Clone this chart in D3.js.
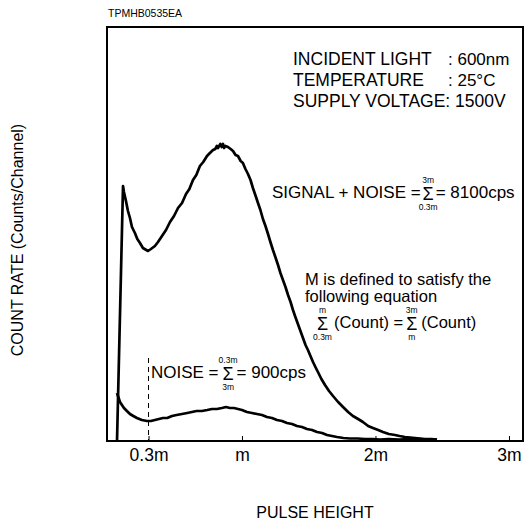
<!DOCTYPE html>
<html><head><meta charset="utf-8">
<script src="https://cdn.jsdelivr.net/npm/d3@7"></script>
<style>
html,body{margin:0;padding:0;background:#fff;}
text{font-family:"Liberation Sans",Arial,sans-serif;fill:#000;}
</style></head>
<body>
<svg id="chart" width="526" height="520"></svg>
<script>
// ---- data (pulse height in units of m, count rate in arbitrary units) ----
const signalX = [0.064,0.109,0.116,0.131,0.146,0.161,0.176,0.198,0.216,0.236,0.258,0.296,0.318,0.348,0.371,0.401,0.431,0.461,0.491,0.521,0.551,0.581,0.606,0.633,0.658,0.685,0.710,0.738,0.760,0.783,0.800,0.812,0.820,0.838,0.848,0.858,0.866,0.876,0.895,0.915,0.933,0.952,0.970,0.990,1.007,1.026,1.045,1.064,1.082,1.100,1.120,1.138,1.157,1.176,1.195,1.213,1.232,1.250,1.270,1.288,1.307,1.326,1.345,1.364,1.382,1.400,1.419,1.438,1.457,1.476,1.494,1.513,1.532,1.550,1.569,1.595,1.622,1.652,1.682,1.720,1.757,1.795,1.831,1.870,1.906,1.945,1.981,2.020,2.056,2.100,2.146,2.180,2.221,2.260,2.296,2.335,2.371,2.420,2.461];
const signalY = [0,255,249,240,230,223,214,208,202,198,193,190,192,195,199,205,211,219,225,233,238,247,252,261,266,275,279,285,288,291,292,295,293,297,294,297,293,295,294,292,290,286,285,280,278,272,267,261,253,246,238,231,222,215,207,199,191,184,176,168,161,154,146,139,131,124,117,110,103,96,91,85,79,74,69,62,56,50,45,39,34,29,25,22,19,15,13,11,9,7,6,5,4,3.5,3,2.5,2,2,1.5];

const noiseX = [0.064,0.086,0.116,0.138,0.161,0.186,0.213,0.250,0.288,0.318,0.348,0.378,0.408,0.440,0.476,0.510,0.551,0.590,0.625,0.660,0.700,0.740,0.775,0.812,0.850,0.880,0.910,0.940,0.970,1.000,1.037,1.075,1.112,1.150,1.187,1.225,1.262,1.300,1.337,1.375,1.412,1.450,1.487,1.525,1.562,1.600,1.637,1.675,1.712,1.760,1.809,1.865,1.921,1.980,2.034,2.100,2.180,2.250,2.330,2.400,2.460];
const noiseY = [48,39,33,30,27,25,23,21,20,20,21,22,23,23,25,26,27,28,29,30,30,31,32,32,33,34,33,33,32,31,29,28,27,26,24,23,21,20,18,17,15,14,12,11,9,8,6,5,4,3,2.5,2.5,2,2,1.5,2,1.5,2,1.5,1.5,1.5];

const tickValues = [0.3, 1, 2, 3];
const tickLabels = ["0.3m", "m", "2m", "3m"];
const conditionLabels = ["INCIDENT LIGHT", "TEMPERATURE"];
const conditionValues = [": 600nm", ": 25°C"];
const voltageLine = "SUPPLY VOLTAGE: 1500V";
const noiseMarker = 0.3;

// ---- layout ----
const svg = d3.select("#chart");
const L = 107, R = 523, T = 27, B = 441;
const x = d3.scaleLinear().domain([-0.011, 3.105]).range([L, R]);
const y = d3.scaleLinear().domain([0, 414]).range([B, T]);

// frame
svg.append("rect").attr("x", L).attr("y", T).attr("width", R - L).attr("height", B - T)
  .attr("fill", "none").attr("stroke", "#000").attr("stroke-width", 2);

// x axis
const ax = svg.append("g").attr("transform", `translate(0,${B})`)
  .call(d3.axisBottom(x).tickValues(tickValues).tickFormat((d, i) => tickLabels[i])
    .tickSize(-5).tickPadding(8));
ax.select(".domain").remove();
ax.selectAll("line").attr("stroke", "#000").attr("stroke-width", 1);
ax.selectAll("text").attr("font-size", 17.5).attr("font-family", "Liberation Sans, Arial, sans-serif");

// dashed marker at 0.3m
svg.append("line").attr("x1", x(noiseMarker)).attr("x2", x(noiseMarker))
  .attr("y1", 358).attr("y2", B).attr("stroke", "#000").attr("stroke-width", 1)
  .attr("stroke-dasharray", "5,4");

// curves
const line = d3.line().x(d => x(d[0])).y(d => y(d[1]));
svg.append("path").datum(signalX.map((v, i) => [v, signalY[i]]))
  .attr("d", line).attr("fill", "none").attr("stroke", "#000").attr("stroke-width", 2.7)
  .attr("stroke-linejoin", "round");
svg.append("path").datum(noiseX.map((v, i) => [v, noiseY[i]]))
  .attr("d", line).attr("fill", "none").attr("stroke", "#000").attr("stroke-width", 2.7)
  .attr("stroke-linejoin", "round");

// texts
function txt(xp, yp, s, size, anchor) {
  return svg.append("text").attr("x", xp).attr("y", yp).attr("font-size", size)
    .attr("text-anchor", anchor || "start").text(s);
}
txt(108, 17, "TPMHB0535EA", 10.5);

conditionLabels.forEach((s, i) => {
  txt(293, 65 + i * 21, s, 17.5);
  txt(448, 65 + i * 21, conditionValues[i], 17);
});
txt(293, 107, voltageLine, 17.5);

// sigma helper
function sigma(cx, baseline, top, bottom) {
  txt(cx, baseline, "Σ", 18, "middle");
  txt(cx, baseline - 16.5, top, 8.5, "middle");
  txt(cx, baseline + 10.5, bottom, 8.5, "middle");
}
// equation helper: text, sigma, text chained with measured widths
function equation(x0, baseline, size, parts) {
  let cx = x0;
  parts.forEach(p => {
    cx += p.gap || 0;
    if (p.sigma) {
      sigma(cx + 5.5, baseline + 1.5, p.top, p.bottom);
      cx += 11;
    } else {
      const t = txt(cx, baseline, p.text, size);
      cx += t.node().getComputedTextLength();
    }
  });
}

equation(272, 198, 17, [
  {text: "SIGNAL + NOISE ="}, {sigma: true, top: "3m", bottom: "0.3m", gap: 2},
  {text: "= 8100cps", gap: 2}
]);

txt(305, 285, "M is defined to satisfy the", 16.5);
txt(305, 302, "following equation", 16.5);
equation(317, 328, 16.5, [
  {sigma: true, top: "m", bottom: "0.3m"},
  {text: "(Count) =", gap: 6},
  {sigma: true, top: "3m", bottom: "m", gap: 3},
  {text: "(Count)", gap: 4}
]);

equation(151, 378, 17, [
  {text: "NOISE ="}, {sigma: true, top: "0.3m", bottom: "3m", gap: 4},
  {text: "= 900cps", gap: 3}
]);

// axis titles
txt(315, 518, "PULSE HEIGHT", 16, "middle");
svg.append("text").attr("transform", "translate(23,240) rotate(-90)")
  .attr("text-anchor", "middle").attr("font-size", 16).text("COUNT RATE (Counts/Channel)");
</script>
</body></html>
